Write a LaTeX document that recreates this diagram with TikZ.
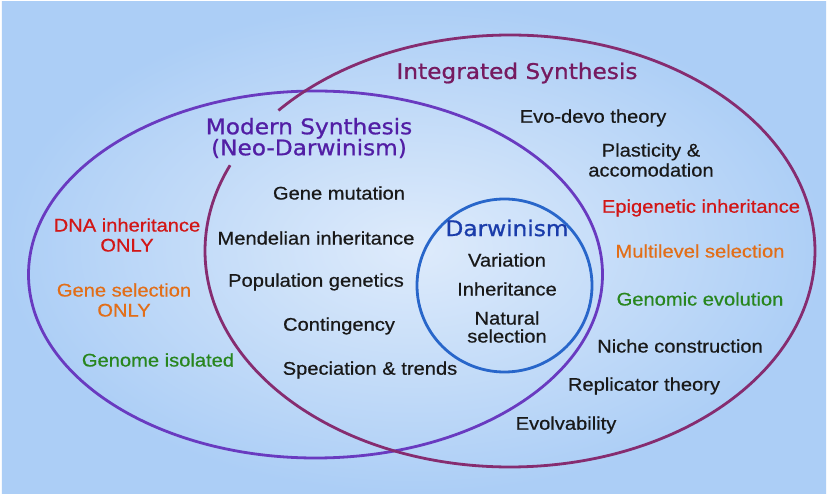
\documentclass[tikz,border=0pt]{standalone}
\usepackage{fontspec}
\usepackage{tikz}

\newfontfamily\bodyfont{Liberation Sans}[FakeStretch=1.1,FakeBold=0.6]
\newfontfamily\titlefont{DejaVu Sans}[FakeStretch=1.08,FakeBold=0.9]

\definecolor{skyBlue}{RGB}{172,206,246}
\definecolor{skyLight}{RGB}{222,235,251}
\definecolor{msLine}{RGB}{105,58,192}
\definecolor{msText}{RGB}{82,30,165}
\definecolor{isLine}{RGB}{134,44,112}
\definecolor{isText}{RGB}{118,26,96}
\definecolor{dwLine}{RGB}{40,102,202}
\definecolor{dwText}{RGB}{26,60,170}
\definecolor{txtRed}{RGB}{210,22,22}
\definecolor{txtOrange}{RGB}{226,110,24}
\definecolor{txtGreen}{RGB}{40,134,30}

\begin{document}
\begin{tikzpicture}[x=10pt,y=10pt,
		lbl/.style={inner sep=0pt, align=center, text=black!90, font=\bodyfont\fontsize{18.3}{20}\selectfont},
		ttl/.style={inner sep=0pt, align=center, font=\titlefont\fontsize{21.5}{21}\selectfont},
		ring/.style={line width=2.8pt}]
				
				\useasboundingbox[fill=white] (0,0) rectangle (82.8,49.6);
				\shade[inner color=skyLight, outer color=skyBlue] (0.2,0.3) rectangle (82.6,49.4);
				
				\coordinate (msC) at (31.55,22.15);
				\coordinate (isC) at (51.0,24.5);
				\coordinate (dwC) at (50.45,21.05);
				
				\draw[ring, msLine] (msC) ellipse[x radius=28.7, y radius=18.35];
				\draw[ring, isLine] ([shift={(139.4:30.5 and 21.6)}]isC) arc[start angle=139.4, end angle=-203.4, x radius=30.5, y radius=21.6];
				\draw[ring, dwLine] (dwC) ellipse[x radius=8.75, y radius=8.65];
				
				\node[ttl, text=isText] (lblIntegrated) at (51.7,42.3) {Integrated Synthesis};
				\node[ttl, text=msText] (lblModern) at (30.9,35.8) {Modern Synthesis\\(Neo-Darwinism)};
				\node[ttl, text=dwText] (lblDarwin) at (50.7,26.8) {Darwinism};
				
				\node[lbl] (lblEvoDevo) at (59.3,37.8) {Evo-devo theory};
				\node[lbl] (lblPlastic) at (65.1,33.6) {Plasticity \&\\accomodation};
				\node[lbl, text=txtRed] (lblEpigen) at (70.1,28.8) {Epigenetic inheritance};
				\node[lbl, text=txtOrange] (lblMulti) at (70.0,24.5) {Multilevel selection};
				\node[lbl, text=txtGreen] (lblGenomic) at (70.0,19.7) {Genomic evolution};
				\node[lbl] (lblNiche) at (68.0,15.0) {Niche construction};
				\node[lbl] (lblReplic) at (64.4,11.0) {Replicator theory};
				\node[lbl] (lblEvolv) at (56.6,7.1) {Evolvability};
				
				\node[lbl] (lblMutation) at (33.9,30.3) {Gene mutation};
				\node[lbl] (lblMendel) at (31.6,25.8) {Mendelian inheritance};
				\node[lbl] (lblPopGen) at (31.6,21.4) {Population genetics};
				\node[lbl] (lblConting) at (33.9,17.0) {Contingency};
				\node[lbl] (lblSpec) at (37.0,12.6) {Speciation \& trends};
				
				\node[lbl, text=txtRed] (lblDNA) at (12.7,26.1) {DNA inheritance\\ONLY};
				\node[lbl, text=txtOrange] (lblGeneSel) at (12.4,19.6) {Gene selection\\ONLY};
				\node[lbl, text=txtGreen] (lblIsolated) at (15.8,13.6) {Genome isolated};
				
				\node[lbl] (lblVariation) at (50.7,23.6) {Variation};
				\node[lbl] (lblInherit) at (50.7,20.7) {Inheritance};
				\node[lbl, font=\bodyfont\fontsize{18.3}{18}\selectfont] (lblNatSel) at (50.7,16.9) {Natural\\selection};
				
			\end{tikzpicture}
\end{document}
